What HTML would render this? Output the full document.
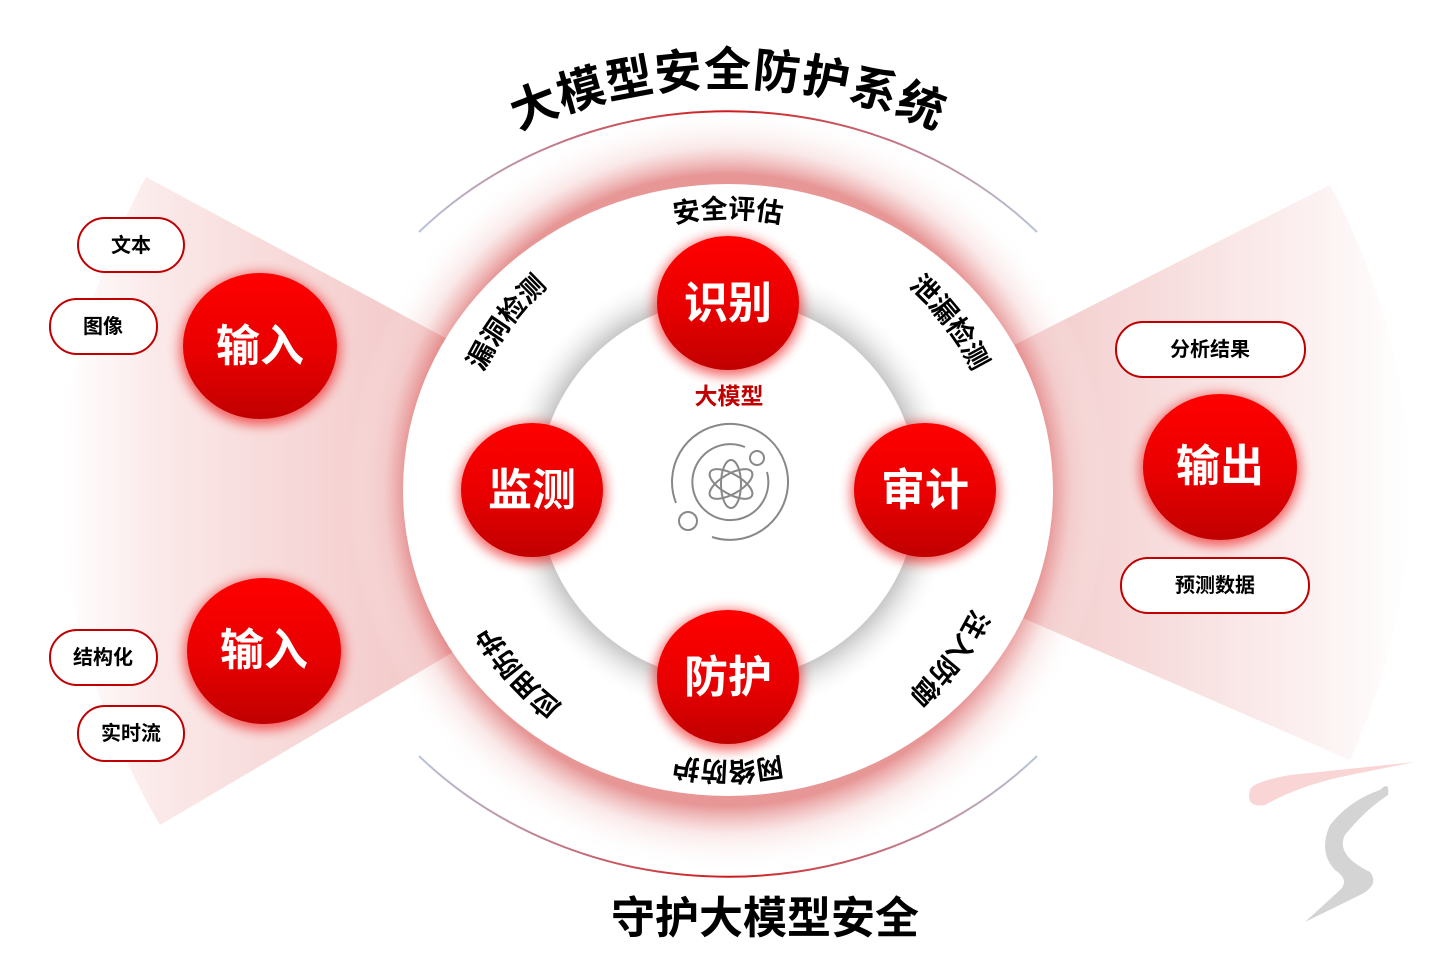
<!DOCTYPE html>
<html><head><meta charset="utf-8"><style>
html,body{margin:0;padding:0;background:#fff;}
svg{display:block;font-family:"Liberation Sans","Noto Sans CJK SC",sans-serif;font-weight:bold;}
</style></head><body>
<svg width="1446" height="971" viewBox="0 0 1446 971" xmlns="http://www.w3.org/2000/svg">
<defs>
<linearGradient id="lw" x1="0" y1="0" x2="1" y2="0" gradientUnits="objectBoundingBox">
<stop offset="0" stop-color="#fff" stop-opacity="1"/><stop offset="0.15" stop-color="#fbe8e8"/><stop offset="0.6" stop-color="#f2c4c4"/><stop offset="0.85" stop-color="#e07c7c"/><stop offset="1" stop-color="#d85a5a"/></linearGradient>
<linearGradient id="rw" x1="1" y1="0" x2="0" y2="0">
<stop offset="0" stop-color="#fff"/><stop offset="0.15" stop-color="#fcf0f0"/><stop offset="0.6" stop-color="#f2c8c8"/><stop offset="0.85" stop-color="#e48888"/><stop offset="1" stop-color="#d85a5a"/></linearGradient>
<radialGradient id="glow" cx="728" cy="490" r="395" gradientUnits="userSpaceOnUse">
<stop offset="0.8" stop-color="#d44040" stop-opacity="0.55"/><stop offset="0.87" stop-color="#f3c6c6" stop-opacity="0.4"/><stop offset="0.97" stop-color="#fff" stop-opacity="0"/></radialGradient>
<radialGradient id="gray" cx="728" cy="490" r="230" gradientUnits="userSpaceOnUse">
<stop offset="0.8" stop-color="#bbb"/><stop offset="0.88" stop-color="#e4e4e4"/><stop offset="1" stop-color="#fff" stop-opacity="0"/></radialGradient>
<linearGradient id="ball" x1="0" y1="0" x2="0" y2="1">
<stop offset="0" stop-color="#ff0000"/><stop offset="0.55" stop-color="#e80000"/><stop offset="1" stop-color="#c00000"/></linearGradient>
<linearGradient id="arcg" x1="0" y1="0" x2="1" y2="0">
<stop offset="0" stop-color="#b8c4dc"/><stop offset="0.5" stop-color="#d01818"/><stop offset="1" stop-color="#b8c4dc"/></linearGradient>
<filter id="bs" x="-40%" y="-40%" width="180%" height="180%"><feGaussianBlur stdDeviation="6"/></filter>
<path id="ring" d="M 456,490 A 272 272 0 0 1 1000,490 A 272 272 0 0 1 456,490"/>
<path id="tarc" d="M 208,606 A 520 520 0 0 1 1248,606"/>
</defs>
<!-- wedges -->
<path d="M146,177 Q-29,500 160,825 L728,490 Z" fill="url(#lw)"/>
<path d="M1330,185 Q1480,470 1350,760 L728,490 Z" fill="url(#rw)"/>
<!-- glow ring -->
<ellipse cx="728" cy="490" rx="380" ry="380" fill="url(#glow)"/>
<!-- outer thin arcs (top and bottom only) -->
<path d="M419,232 A 424 383 0 0 1 1037,232" fill="none" stroke="url(#arcg)" stroke-width="2"/>
<path d="M419,756 A 424 383 0 0 0 1037,756" fill="none" stroke="url(#arcg)" stroke-width="2"/>
<ellipse cx="728" cy="490" rx="325" ry="306" fill="#fff"/>
<!-- inner gray -->
<ellipse cx="728" cy="490" rx="228" ry="225" fill="url(#gray)"/>
<ellipse cx="728" cy="490" rx="190" ry="190" fill="#fff"/>
<!-- title -->
<text font-size="47" fill="#000" letter-spacing="1"><textPath href="#tarc" startOffset="50%" text-anchor="middle">大模型安全防护系统</textPath></text>
<text x="765" y="933" font-size="44" text-anchor="middle" fill="#000">守护大模型安全</text>
<!-- ring labels -->
<g font-size="27" fill="#000">
<text><textPath href="#ring" startOffset="25%" text-anchor="middle">安全评估</textPath></text>
<text><textPath href="#ring" startOffset="39.7%" text-anchor="middle">泄漏检测</textPath></text>
<text><textPath href="#ring" startOffset="60.3%" text-anchor="middle">注入防御</textPath></text>
<text><textPath href="#ring" startOffset="75%" text-anchor="middle">网络防护</textPath></text>
<text><textPath href="#ring" startOffset="88.6%" text-anchor="middle">应用防护</textPath></text>
<text><textPath href="#ring" startOffset="10.3%" text-anchor="middle">漏洞检测</textPath></text>
</g>
<!-- balls -->
<g>
<ellipse cx="728" cy="306" rx="74" ry="70" fill="#e00" opacity="0.6" filter="url(#bs)"/>
<ellipse cx="728" cy="303" rx="71" ry="67" fill="url(#ball)"/>
<ellipse cx="532" cy="493" rx="74" ry="70" fill="#e00" opacity="0.6" filter="url(#bs)"/>
<ellipse cx="532" cy="490" rx="71" ry="67" fill="url(#ball)"/>
<ellipse cx="925" cy="493" rx="74" ry="70" fill="#e00" opacity="0.6" filter="url(#bs)"/>
<ellipse cx="925" cy="490" rx="71" ry="67" fill="url(#ball)"/>
<ellipse cx="728" cy="680" rx="74" ry="70" fill="#e00" opacity="0.6" filter="url(#bs)"/>
<ellipse cx="728" cy="677" rx="71" ry="67" fill="url(#ball)"/>
<ellipse cx="260" cy="349" rx="80" ry="76" fill="#e00" opacity="0.6" filter="url(#bs)"/>
<ellipse cx="260" cy="346" rx="77" ry="73" fill="url(#ball)"/>
<ellipse cx="264" cy="654" rx="80" ry="76" fill="#e00" opacity="0.6" filter="url(#bs)"/>
<ellipse cx="264" cy="651" rx="77" ry="73" fill="url(#ball)"/>
<ellipse cx="1220" cy="470" rx="80" ry="76" fill="#e00" opacity="0.6" filter="url(#bs)"/>
<ellipse cx="1220" cy="467" rx="77" ry="73" fill="url(#ball)"/>
</g>
<g font-size="44" fill="#fff" text-anchor="middle">
<text x="728" y="318">识别</text>
<text x="532" y="505">监测</text>
<text x="925" y="505">审计</text>
<text x="728" y="692">防护</text>
<text x="260" y="361">输入</text>
<text x="264" y="665">输入</text>
<text x="1220" y="481">输出</text>
</g>
<text x="729" y="404" font-size="23" fill="#c00000" text-anchor="middle">大模型</text>
<!-- atom icon -->
<g fill="none" stroke="#888" stroke-width="2">
<path d="M676,503 A58 58 0 1 1 712,537"/>
<path d="M767,472 A38 38 0 1 1 745,447"/>
<ellipse cx="731" cy="484" rx="24" ry="10" transform="rotate(90 731 484)"/>
<ellipse cx="731" cy="484" rx="24" ry="10" transform="rotate(30 731 484)"/>
<ellipse cx="731" cy="484" rx="24" ry="10" transform="rotate(-30 731 484)"/>
<circle cx="757" cy="458" r="7" fill="#fff"/>
<circle cx="688" cy="521" r="9" fill="#fff"/>
</g>
<!-- pills -->
<g fill="#fff" stroke="#c00000" stroke-width="2">
<rect x="78" y="218" width="106" height="54" rx="27"/>
<rect x="50" y="299" width="107" height="55" rx="27"/>
<rect x="50" y="630" width="107" height="55" rx="27"/>
<rect x="78" y="706" width="106" height="55" rx="27"/>
<rect x="1116" y="322" width="189" height="55" rx="27"/>
<rect x="1121" y="558" width="188" height="55" rx="27"/>
</g>
<g font-size="20" fill="#000" text-anchor="middle">
<text x="131" y="252">文本</text>
<text x="103" y="333">图像</text>
<text x="103" y="664">结构化</text>
<text x="131" y="740">实时流</text>
<text x="1210" y="356">分析结果</text>
<text x="1215" y="592">预测数据</text>
</g>
<!-- logo -->
<path d="M1250,790 Q1252,782 1290,775 L1415,762 L1350,775 Q1300,785 1265,805 Q1245,808 1250,790 Z" fill="#f9d5d6"/>
<path d="M1380,790 Q1390,780 1388,795 Q1365,810 1345,835 Q1335,855 1370,872 Q1380,885 1360,895 L1305,922 L1340,890 Q1350,880 1335,870 Q1318,852 1330,825 Q1350,800 1380,790 Z" fill="#d4d4d4"/>
</svg>
</body></html>
